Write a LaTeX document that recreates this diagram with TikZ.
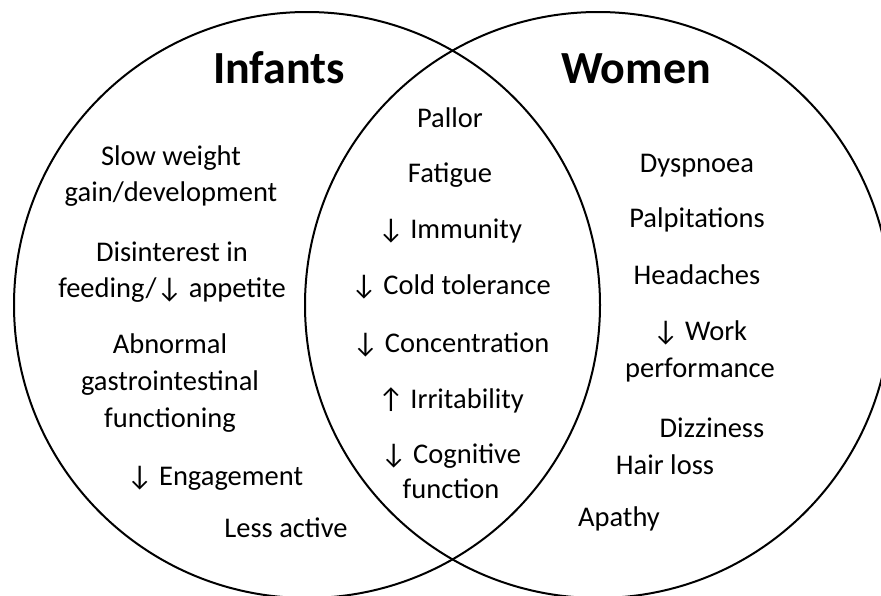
\documentclass[tikz,border=0pt]{standalone}
\usepackage{fontspec}
\setmainfont{Carlito}
\begin{document}
\begin{tikzpicture}[x=1pt,y=-1pt,
  venn/.style={draw=black, line width=2pt, circle, minimum size=586pt, inner sep=0pt},
  lbl/.style={anchor=base, inner sep=0pt, font=\fontsize{28.5}{34}\selectfont},
  ttl/.style={anchor=base, inner sep=0pt, font=\fontsize{46}{52}\selectfont\bfseries}]
\useasboundingbox (0,0) rectangle (881,595);
\clip (0,0) rectangle (881,595);
\fill[white] (0,0) rectangle (881,595);
\node[venn] (L) at (307,305) {};
\node[venn] (R) at (598,305) {};
% titles
\node[ttl] (tinf) at (279,83) {Infants};
\node[ttl] (twom) at (636,83) {Women};
% infants
\node[lbl] (i1a) at (171,165) {Slow weight};
\node[lbl] (i1b) at (171,201) {gain/development};
\node[lbl] (i2a) at (172,261) {Disinterest in};
\node[lbl] (i2b) at (172,297) {feeding/↓ appetite};
\node[lbl] (i3a) at (170,353) {Abnormal};
\node[lbl] (i3b) at (170,390) {gastrointestinal};
\node[lbl] (i3c) at (170,427) {functioning};
\node[lbl] (i4) at (215,485) {↓ Engagement};
\node[lbl] (i5) at (286,537) {Less active};
% both
\node[lbl] (b1) at (450,127) {Pallor};
\node[lbl] (b2) at (450,182) {Fatigue};
\node[lbl] (b3) at (450,238) {↓ Immunity};
\node[lbl] (b4) at (451,294) {↓ Cold tolerance};
\node[lbl] (b5) at (451,352) {↓ Concentration};
\node[lbl] (b6) at (451,408) {↑ Irritability};
\node[lbl] (b7a) at (451,463) {↓ Cognitive};
\node[lbl] (b7b) at (451,498) {function};
% women
\node[lbl] (w1) at (697,172) {Dyspnoea};
\node[lbl] (w2) at (697,227) {Palpitations};
\node[lbl] (w3) at (697,284) {Headaches};
\node[lbl] (w4a) at (700,340) {↓ Work};
\node[lbl] (w4b) at (700,377) {performance};
\node[lbl] (w5) at (712,437) {Dizziness};
\node[lbl] (w6) at (665,474) {Hair loss};
\node[lbl] (w7) at (619,526) {Apathy};
\end{tikzpicture}
\end{document}
